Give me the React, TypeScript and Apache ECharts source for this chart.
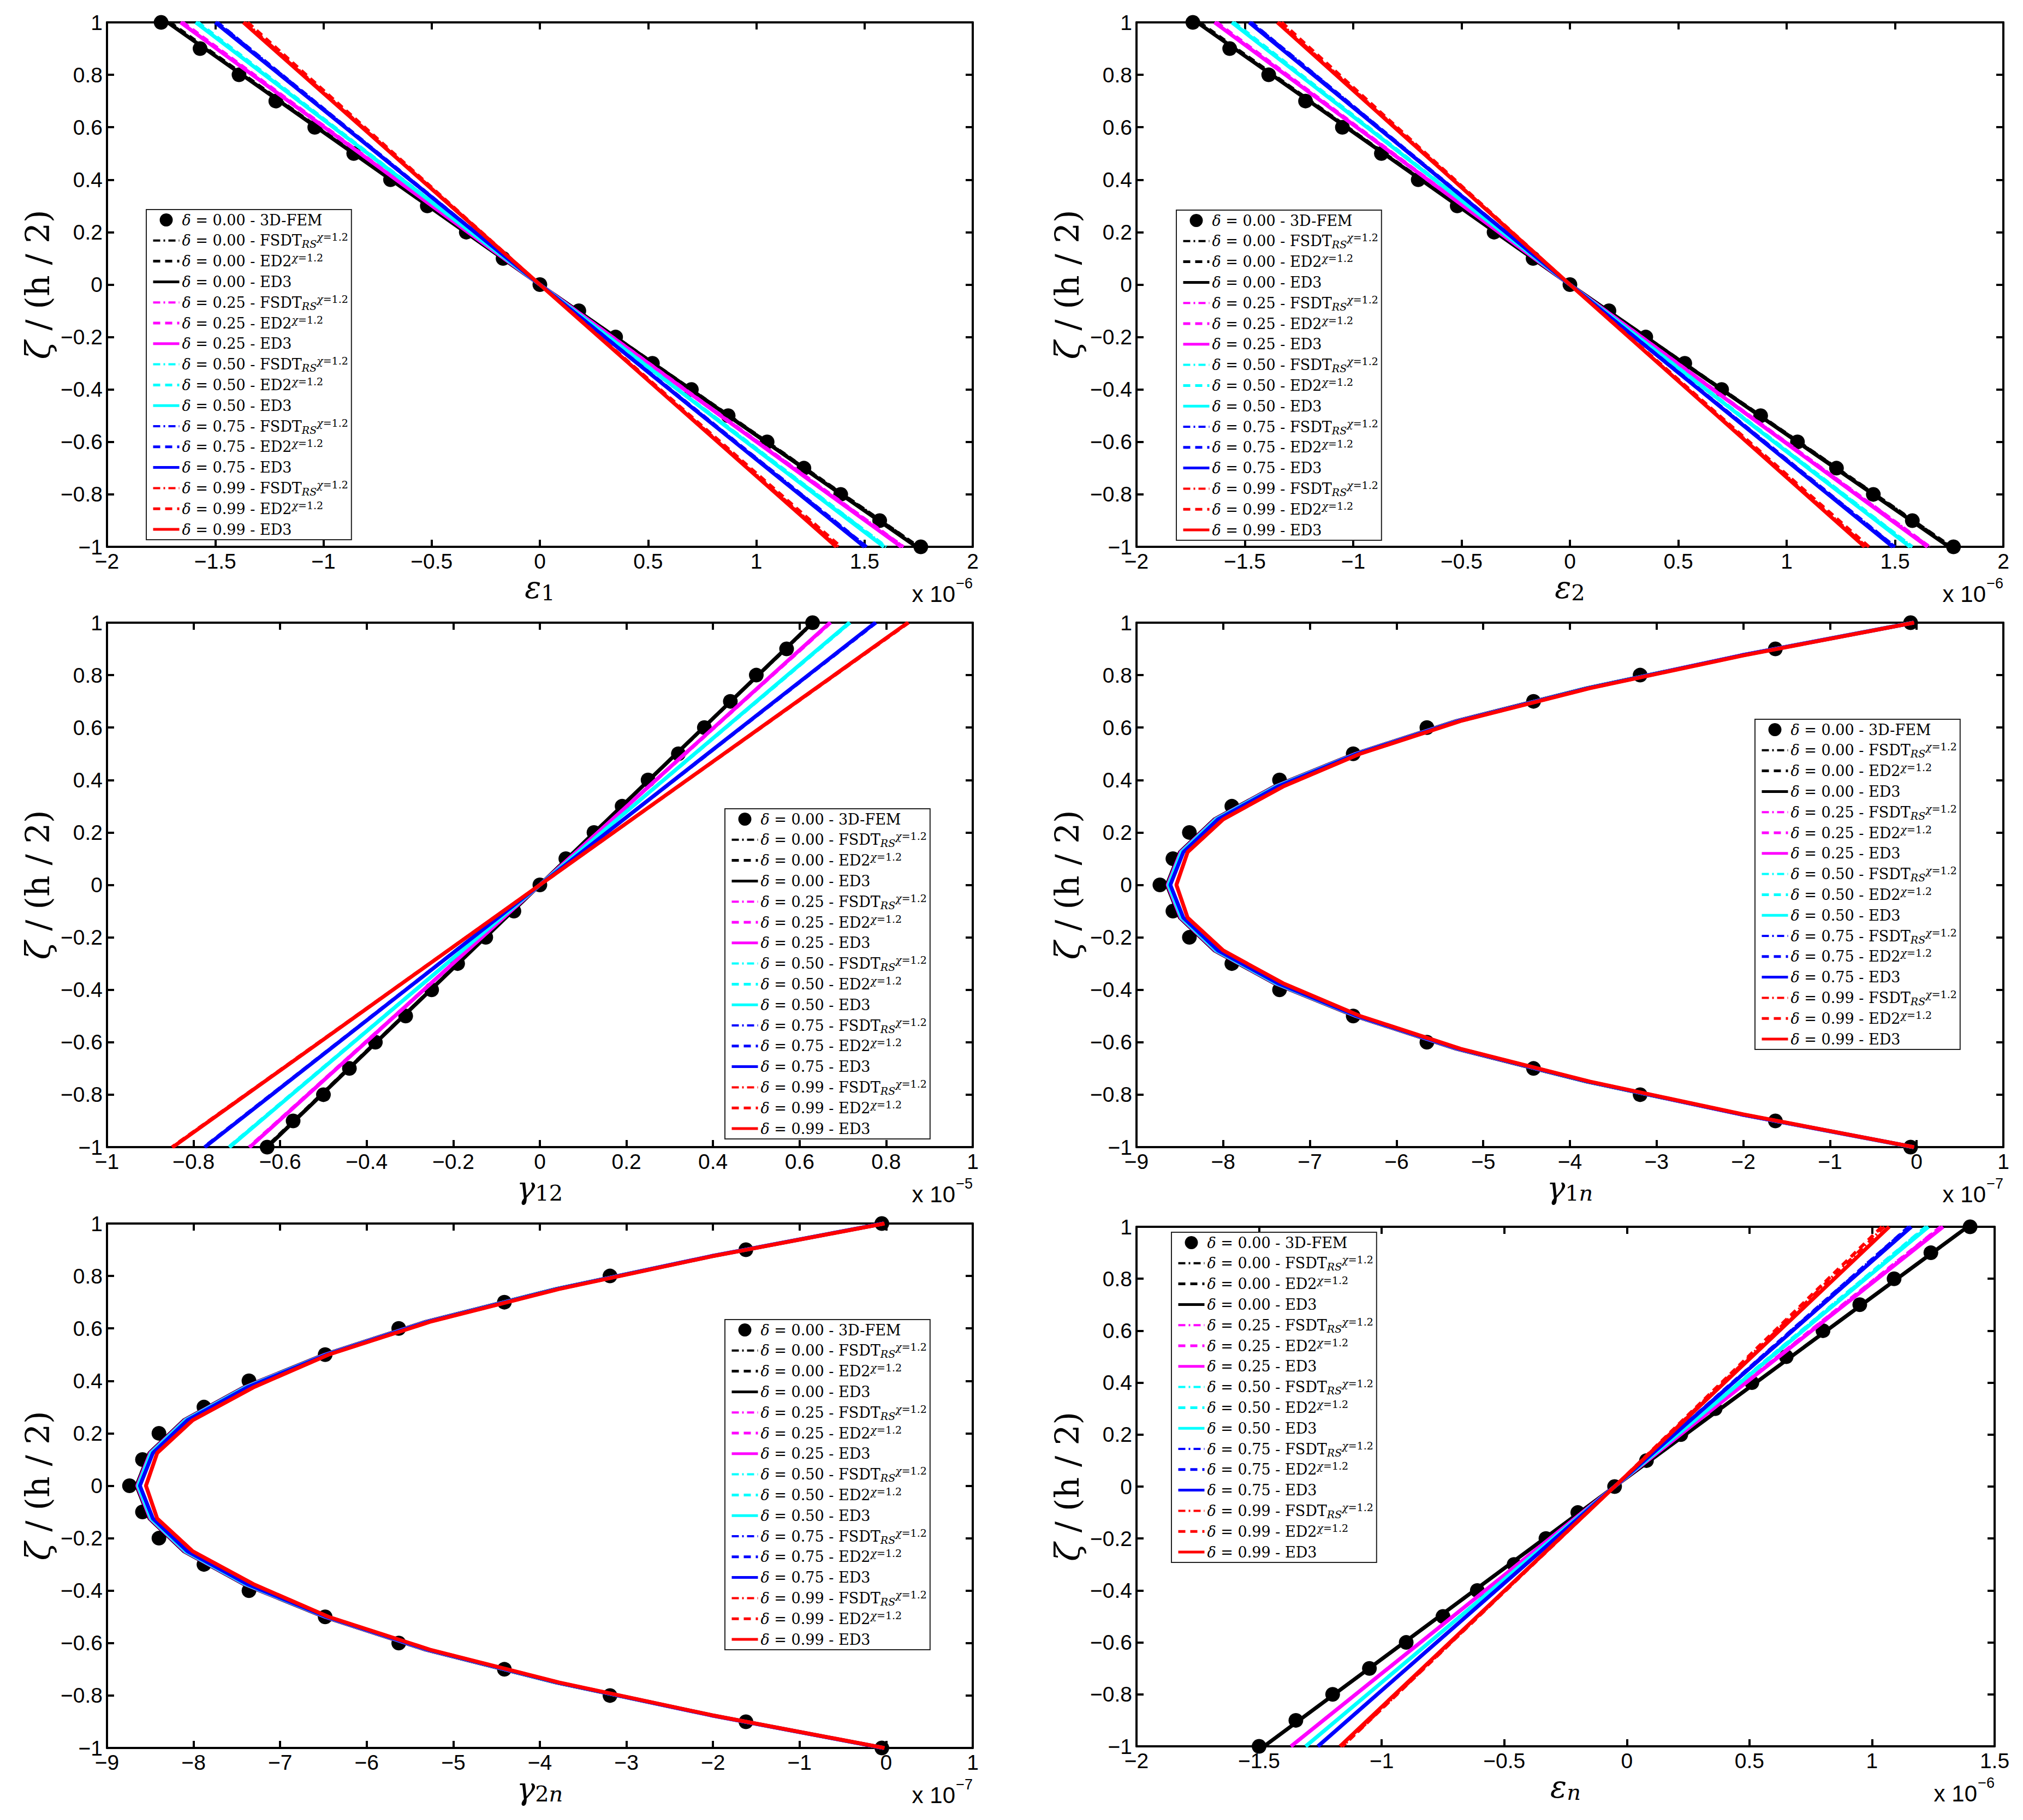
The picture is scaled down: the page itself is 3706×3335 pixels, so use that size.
import React, { useEffect, useRef } from "react";
import * as echarts from "echarts";

// ---------- shared ----------
const DELTA_LABELS = ["0.00", "0.25", "0.50", "0.75", "0.99"];
const DELTA_COLORS = ["#000000", "#ff00ff", "#00ffff", "#0000ff", "#ff0000"];
const FEM_ZETA = [1, 0.9, 0.8, 0.7, 0.6, 0.5, 0.4, 0.3, 0.2, 0.1, 0, -0.1, -0.2, -0.3, -0.4, -0.5, -0.6, -0.7, -0.8, -0.9, -1];
const LIN_ZETA = [1, 0, -1];
const CURVE_ZETA = [1, 0.875, 0.75, 0.625, 0.5, 0.375, 0.25, 0.125, 0, -0.125, -0.25, -0.375, -0.5, -0.625, -0.75, -0.875, -1];

// ---------- panel 1 : epsilon_1 (x 1e-6) ----------
const eps1Fem = [-1.75, -1.57, -1.39, -1.22, -1.04, -0.86, -0.69, -0.52, -0.34, -0.17, 0, 0.18, 0.35, 0.52, 0.7, 0.87, 1.05, 1.22, 1.39, 1.57, 1.76];
const eps1Ed3 = [[-1.72, 0, 1.74], [-1.66, 0, 1.67], [-1.59, 0, 1.59], [-1.5, 0, 1.5], [-1.37, 0, 1.37]];
const eps1Ed2 = [[-1.71, 0, 1.75], [-1.65, 0, 1.68], [-1.58, 0, 1.6], [-1.49, 0, 1.51], [-1.35, 0, 1.39]];
const eps1Fsdt = [[-1.72, 0, 1.75], [-1.66, 0, 1.68], [-1.59, 0, 1.6], [-1.49, 0, 1.51], [-1.36, 0, 1.38]];

// ---------- panel 2 : epsilon_2 (x 1e-6) ----------
const eps2Fem = [-1.74, -1.57, -1.39, -1.22, -1.05, -0.87, -0.7, -0.52, -0.35, -0.17, 0, 0.18, 0.35, 0.53, 0.7, 0.88, 1.05, 1.23, 1.4, 1.58, 1.77];
const eps2Ed3 = [[-1.72, 0, 1.75], [-1.64, 0, 1.65], [-1.56, 0, 1.57], [-1.48, 0, 1.49], [-1.35, 0, 1.36]];
const eps2Ed2 = [[-1.71, 0, 1.76], [-1.63, 0, 1.66], [-1.55, 0, 1.58], [-1.47, 0, 1.5], [-1.33, 0, 1.38]];
const eps2Fsdt = [[-1.72, 0, 1.76], [-1.64, 0, 1.66], [-1.56, 0, 1.58], [-1.47, 0, 1.5], [-1.34, 0, 1.37]];

// ---------- panel 3 : gamma_12 (x 1e-5) ----------
const g12Fem = [0.63, 0.57, 0.5, 0.44, 0.38, 0.32, 0.25, 0.19, 0.125, 0.06, 0, -0.06, -0.125, -0.19, -0.25, -0.31, -0.38, -0.44, -0.5, -0.57, -0.63];
const g12Ed3 = [[0.63, 0, -0.63], [0.67, 0, -0.67], [0.715, 0, -0.717], [0.775, 0, -0.774], [0.85, 0, -0.848]];
const g12Ed2 = [[0.63, 0, -0.632], [0.672, 0, -0.672], [0.717, 0, -0.719], [0.777, 0, -0.776], [0.852, 0, -0.85]];
const g12Fsdt = [[0.632, 0, -0.632], [0.672, 0, -0.671], [0.716, 0, -0.718], [0.776, 0, -0.775], [0.851, 0, -0.849]];

// ---------- panel 4 : gamma_1n (x 1e-7) ----------
const g1nFem = [-0.07, -1.63, -3.19, -4.42, -5.65, -6.5, -7.35, -7.9, -8.39, -8.58, -8.73, -8.58, -8.39, -7.9, -7.35, -6.5, -5.65, -4.42, -3.19, -1.63, -0.07];
const g1nEd3 = [
  [-0.04, -2.03, -3.81, -5.31, -6.48, -7.41, -8.1, -8.5, -8.65, -8.5, -8.1, -7.41, -6.48, -5.31, -3.81, -2.03, -0.04],
  [-0.04, -2.03, -3.8, -5.3, -6.47, -7.4, -8.09, -8.49, -8.64, -8.49, -8.09, -7.4, -6.47, -5.3, -3.8, -2.03, -0.04],
  [-0.04, -2.02, -3.8, -5.29, -6.46, -7.39, -8.08, -8.48, -8.63, -8.48, -8.08, -7.39, -6.46, -5.29, -3.8, -2.02, -0.04],
  [-0.03, -2.02, -3.79, -5.28, -6.45, -7.37, -8.06, -8.46, -8.61, -8.46, -8.06, -7.37, -6.45, -5.28, -3.79, -2.02, -0.03],
  [-0.03, -2.0, -3.77, -5.26, -6.42, -7.31, -8.0, -8.41, -8.54, -8.41, -8.0, -7.31, -6.42, -5.26, -3.77, -2.0, -0.03],
];

// ---------- panel 5 : gamma_2n (x 1e-7) ----------
const g2nFem = [-0.05, -1.62, -3.19, -4.41, -5.63, -6.48, -7.36, -7.88, -8.4, -8.59, -8.74, -8.59, -8.4, -7.88, -7.36, -6.48, -5.63, -4.41, -3.19, -1.62, -0.05];
const g2nEd3 = [
  [-0.03, -2.03, -3.82, -5.32, -6.49, -7.42, -8.11, -8.51, -8.66, -8.51, -8.11, -7.42, -6.49, -5.32, -3.82, -2.03, -0.03],
  [-0.03, -2.03, -3.81, -5.31, -6.48, -7.41, -8.1, -8.5, -8.65, -8.5, -8.1, -7.41, -6.48, -5.31, -3.81, -2.03, -0.03],
  [-0.03, -2.02, -3.81, -5.3, -6.47, -7.4, -8.09, -8.49, -8.64, -8.49, -8.09, -7.4, -6.47, -5.3, -3.81, -2.02, -0.03],
  [-0.03, -2.02, -3.8, -5.29, -6.46, -7.38, -8.07, -8.47, -8.62, -8.47, -8.07, -7.38, -6.46, -5.29, -3.8, -2.02, -0.03],
  [-0.02, -2.01, -3.78, -5.27, -6.44, -7.31, -8.01, -8.42, -8.55, -8.42, -8.01, -7.31, -6.44, -5.27, -3.78, -2.01, -0.02],
];

// ---------- panel 6 : epsilon_n (x 1e-6) ----------
const enFem = [1.4, 1.24, 1.09, 0.95, 0.8, 0.65, 0.51, 0.36, 0.22, 0.08, -0.05, -0.2, -0.33, -0.46, -0.61, -0.75, -0.9, -1.05, -1.2, -1.35, -1.5];
const enEd3 = [[1.39, -0.05, -1.48], [1.29, -0.05, -1.37], [1.23, -0.05, -1.31], [1.16, -0.05, -1.26], [1.07, -0.05, -1.17]];
const enEd2 = [[1.39, -0.05, -1.48], [1.28, -0.05, -1.37], [1.22, -0.05, -1.31], [1.15, -0.05, -1.26], [1.04, -0.05, -1.16]];
const enFsdt = [[1.39, -0.05, -1.48], [1.28, -0.05, -1.37], [1.22, -0.05, -1.31], [1.15, -0.05, -1.26], [1.05, -0.05, -1.16]];

// ---------- layout (not data) ----------
const PANELS = [
  { grid: { left: 196, top: 41, width: 1586, height: 961 }, xMin: -2, xMax: 2, xStep: 0.5, exp: "\u22126", xName: "{v|\u03b5}{s|1}", legend: { left: 268, top: 384 }, zeta: LIN_ZETA, fem: eps1Fem, fsdt: eps1Fsdt, ed2: eps1Ed2, ed3: eps1Ed3 },
  { grid: { left: 2082, top: 41, width: 1588, height: 961 }, xMin: -2, xMax: 2, xStep: 0.5, exp: "\u22126", xName: "{v|\u03b5}{s|2}", legend: { left: 2155, top: 385 }, zeta: LIN_ZETA, fem: eps2Fem, fsdt: eps2Fsdt, ed2: eps2Ed2, ed3: eps2Ed3 },
  { grid: { left: 196, top: 1141, width: 1586, height: 961 }, xMin: -1, xMax: 1, xStep: 0.2, exp: "\u22125", xName: "{v|\u03b3}{s|12}", legend: { left: 1328, top: 1482 }, zeta: LIN_ZETA, fem: g12Fem, fsdt: g12Fsdt, ed2: g12Ed2, ed3: g12Ed3 },
  { grid: { left: 2082, top: 1141, width: 1588, height: 961 }, xMin: -9, xMax: 1, xStep: 1, exp: "\u22127", xName: "{v|\u03b3}{s|1}{si|n}", legend: { left: 3215, top: 1318 }, zeta: CURVE_ZETA, fem: g1nFem, fsdt: g1nEd3, ed2: g1nEd3, ed3: g1nEd3 },
  { grid: { left: 196, top: 2242, width: 1586, height: 961 }, xMin: -9, xMax: 1, xStep: 1, exp: "\u22127", xName: "{v|\u03b3}{s|2}{si|n}", legend: { left: 1328, top: 2418 }, zeta: CURVE_ZETA, fem: g2nFem, fsdt: g2nEd3, ed2: g2nEd3, ed3: g2nEd3 },
  { grid: { left: 2082, top: 2248, width: 1572, height: 952 }, xMin: -2, xMax: 1.5, xStep: 0.5, exp: "\u22126", xName: "{v|\u03b5}{si|n}", legend: { left: 2146, top: 2258 }, zeta: LIN_ZETA, fem: enFem, fsdt: enFsdt, ed2: enEd2, ed3: enEd3 },
];

const SERIF = "'DejaVu Serif', serif";
const SANS = "'Liberation Sans', Arial, sans-serif";

const FEM_NAME = "\u03b4 = 0.00 - 3D-FEM";
const nameOf = (d: string, kind: string) => `\u03b4 = ${d} - ${kind}`;
const KINDS = [
  { key: "fsdt", label: "FSDT_RS^\u03c7=1.2", dash: [13, 6, 3, 6], width: 5, legendWidth: 4 },
  { key: "ed2", label: "ED2^\u03c7=1.2", dash: [13, 9], width: 6, legendWidth: 5 },
  { key: "ed3", label: "ED3", dash: "solid", width: 7, legendWidth: 5 },
];

const LEGEND_NAMES: string[] = [FEM_NAME];
const LEGEND_WIDTH: Record<string, number> = {};
const LEGEND_RICH_TEXT: Record<string, string> = {
  [FEM_NAME]: "{d|\u03b4}{m| = 0.00 - 3D-FEM}",
};
DELTA_LABELS.forEach((d) => {
  const n1 = nameOf(d, KINDS[0].label);
  const n2 = nameOf(d, KINDS[1].label);
  const n3 = nameOf(d, KINDS[2].label);
  LEGEND_NAMES.push(n1, n2, n3);
  LEGEND_WIDTH[n1] = KINDS[0].legendWidth;
  LEGEND_WIDTH[n2] = KINDS[1].legendWidth;
  LEGEND_WIDTH[n3] = KINDS[2].legendWidth;
  LEGEND_RICH_TEXT[n1] = `{d|\u03b4}{m| = ${d} - FSDT}{sub|RS}{supi|\u03c7}{sup|=1.2}`;
  LEGEND_RICH_TEXT[n2] = `{d|\u03b4}{m| = ${d} - ED2}{supi|\u03c7}{sup|=1.2}`;
  LEGEND_RICH_TEXT[n3] = `{d|\u03b4}{m| = ${d} - ED3}`;
});

const fmtTick = (v: number) => {
  const r = Math.round(v * 1e6) / 1e6;
  return String(r).replace("-", "\u2212");
};

function buildOption() {
  const grid = PANELS.map((p) => ({ ...p.grid, containLabel: false }));
  const lineAxis = { onZero: false, lineStyle: { color: "#000", width: 4 } };
  const tick = { inside: true, length: 13, lineStyle: { color: "#000", width: 4 } };
  const xAxis: any[] = [];
  const yAxis: any[] = [];
  PANELS.forEach((p, i) => {
    xAxis.push({
      type: "value", gridIndex: i, position: "bottom", min: p.xMin, max: p.xMax, interval: p.xStep,
      axisLine: lineAxis, axisTick: tick, splitLine: { show: false },
      axisLabel: { color: "#000", fontFamily: SANS, fontSize: 39, margin: 7, formatter: fmtTick },
      name: p.xName, nameLocation: "middle", nameGap: 42,
      nameTextStyle: {
        color: "#000",
        rich: {
          v: { fontFamily: SERIF, fontStyle: "italic", fontSize: 56, lineHeight: 58, color: "#000" },
          s: { fontFamily: SERIF, fontSize: 40, lineHeight: 44, verticalAlign: "bottom", color: "#000" },
          si: { fontFamily: SERIF, fontStyle: "italic", fontSize: 40, lineHeight: 44, verticalAlign: "bottom", color: "#000" },
        },
      },
    });
    xAxis.push({
      type: "value", gridIndex: i, position: "top", min: p.xMin, max: p.xMax, interval: p.xStep,
      axisLine: lineAxis, axisTick: tick, splitLine: { show: false }, axisLabel: { show: false },
    });
    yAxis.push({
      type: "value", gridIndex: i, position: "left", min: -1, max: 1, interval: 0.2,
      axisLine: lineAxis, axisTick: tick, splitLine: { show: false },
      axisLabel: { color: "#000", fontFamily: SANS, fontSize: 39, margin: 8, formatter: fmtTick },
      name: "{z|\u03b6}{r| / (h / 2)}", nameLocation: "middle", nameGap: 94,
      nameTextStyle: {
        color: "#000",
        rich: {
          z: { fontFamily: SERIF, fontStyle: "italic", fontSize: 62, lineHeight: 66, color: "#000" },
          r: { fontFamily: SERIF, fontSize: 60, lineHeight: 66, color: "#000" },
        },
      },
    });
    yAxis.push({
      type: "value", gridIndex: i, position: "right", min: -1, max: 1, interval: 0.2,
      axisLine: lineAxis, axisTick: tick, splitLine: { show: false }, axisLabel: { show: false },
    });
  });

  const series: any[] = [];
  PANELS.forEach((p, i) => {
    series.push({
      type: "scatter", name: FEM_NAME, xAxisIndex: 2 * i, yAxisIndex: 2 * i,
      data: p.fem.map((x, k) => [x, FEM_ZETA[k]]),
      symbol: "circle", symbolSize: 27, itemStyle: { color: "#000", opacity: 1 }, clip: false,
    });
    DELTA_LABELS.forEach((d, j) => {
      KINDS.forEach((kind) => {
        const vals: number[] = (p as any)[kind.key][j];
        series.push({
          type: "line", name: nameOf(d, kind.label), xAxisIndex: 2 * i, yAxisIndex: 2 * i,
          data: vals.map((x, k) => [x, p.zeta[k]]),
          symbol: "none", showSymbol: false, clip: false,
          lineStyle: { color: DELTA_COLORS[j], width: kind.width, type: kind.dash as any, cap: "butt" },
          itemStyle: { color: DELTA_COLORS[j] },
          emphasis: { disabled: true },
        });
      });
    });
  });

  const legendText = {
    color: "#000", fontFamily: SERIF, fontSize: 27, lineHeight: 32,
    rich: {
      d: { fontFamily: SERIF, fontStyle: "italic", fontSize: 27, lineHeight: 32, color: "#000" },
      m: { fontFamily: SERIF, fontSize: 27, lineHeight: 32, color: "#000" },
      sub: { fontFamily: SERIF, fontStyle: "italic", fontSize: 19, lineHeight: 19, verticalAlign: "bottom", color: "#000" },
      supi: { fontFamily: SERIF, fontStyle: "italic", fontSize: 19, lineHeight: 19, verticalAlign: "top", color: "#000" },
      sup: { fontFamily: SERIF, fontSize: 19, lineHeight: 19, verticalAlign: "top", color: "#000" },
    },
  };
  const legendData = LEGEND_NAMES.map((n) =>
    n === FEM_NAME
      ? { name: n }
      : { name: n, itemStyle: { opacity: 0, borderWidth: 0 }, lineStyle: { width: LEGEND_WIDTH[n] } }
  );
  const legend = PANELS.map((p) => ({
    left: p.legend.left, top: p.legend.top, orient: "vertical", data: legendData,
    selectedMode: false, itemWidth: 48, itemHeight: 24, itemGap: 5.8,
    padding: [3, 6, 3, 10], backgroundColor: "#ffffff", borderColor: "#222", borderWidth: 2, borderRadius: 0,
    lineStyle: { width: 5 },
    textStyle: legendText,
    formatter: (name: string) => LEGEND_RICH_TEXT[name] || name,
  }));

  const graphic: any[] = [];
  PANELS.forEach((p) => {
    const right = p.grid.left + p.grid.width;
    const bottom = p.grid.top + p.grid.height;
    graphic.push({
      type: "text", x: right - 32, y: bottom + 86, silent: true,
      style: { text: "x 10", fontSize: 42, fontFamily: SANS, fill: "#000", align: "right", verticalAlign: "middle", textAlign: "right", textVerticalAlign: "middle" },
    });
    graphic.push({
      type: "text", x: right, y: bottom + 67, silent: true,
      style: { text: p.exp, fontSize: 27, fontFamily: SANS, fill: "#000", align: "right", verticalAlign: "middle", textAlign: "right", textVerticalAlign: "middle" },
    });
  });

  return {
    animation: false,
    backgroundColor: "#ffffff",
    grid, xAxis, yAxis, series, legend, graphic,
  };
}

export default function App() {
  const ref = useRef<HTMLDivElement>(null);
  useEffect(() => {
    if (!ref.current) return;
    const chart = echarts.init(ref.current, undefined, { renderer: "svg" });
    chart.setOption(buildOption() as any);
    return () => chart.dispose();
  }, []);
  return (
    <div
      ref={ref}
      style={{ position: "absolute", left: 0, top: 0, width: 3706, height: 3335, background: "#fff" }}
    />
  );
}
